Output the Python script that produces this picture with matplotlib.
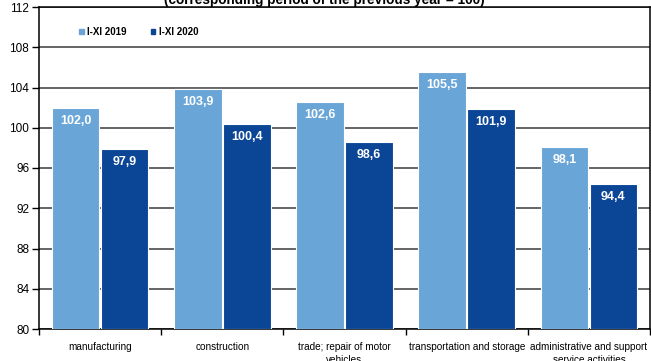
import numpy as np
import matplotlib.pyplot as plt
from matplotlib.patches import Patch

categories = ['manufacturing', 'construction', 'trade; repair of motor\nvehicles',
              'transportation and storage', 'administrative and support\nservice activities']
vals_2019 = [102.0, 103.9, 102.6, 105.5, 98.1]
vals_2020 = [97.9, 100.4, 98.6, 101.9, 94.4]
series_names = ['I-XI 2019', 'I-XI 2020']
yticks = [80, 84, 88, 92, 96, 100, 104, 108, 112]

light = '#69a6d7'
dark = '#0b4596'
plt.rcParams['font.family'] = ['Liberation Sans', 'DejaVu Sans']

fig = plt.figure(figsize=(6.51, 3.61), dpi=100)
ax = fig.add_axes([39 / 651, 1 - 329 / 361, 611 / 651, 322 / 361])

x = np.arange(len(categories))
w = 0.39
b1 = ax.bar(x - 0.2, np.array(vals_2019) - 80, w, bottom=80, color=light,
            edgecolor='white', linewidth=0.8, zorder=3)
b2 = ax.bar(x + 0.2, np.array(vals_2020) - 80, w, bottom=80, color=dark,
            edgecolor='white', linewidth=0.8, zorder=3)

for bars, vals in ((b1, vals_2019), (b2, vals_2020)):
    for r, v in zip(bars, vals):
        ax.text(r.get_x() + r.get_width() / 2, v - 0.7, f'{v:.1f}'.replace('.', ','),
                ha='center', va='top', color='white', fontweight='bold',
                fontsize=9, zorder=4)

ax.set_xlim(-0.5, len(categories) - 0.5)
ax.set_ylim(80, 112)
ax.set_yticks(yticks)
ax.set_yticklabels([str(t) for t in yticks], fontsize=8.5)
ax.yaxis.grid(True, color='#3a3a3a', linewidth=1.1, zorder=0)
ax.tick_params(axis='y', direction='out', length=5, width=1, pad=2)

# category labels sit between the boundary ticks
ax.set_xticks(np.arange(len(categories) + 1) - 0.5)
ax.set_xticklabels([])
ax.tick_params(axis='x', direction='out', length=4, width=1)
ax.set_xticks(x, minor=True)
ax.set_xticklabels(categories, minor=True, fontsize=7.2, linespacing=1.45)
ax.tick_params(axis='x', which='minor', length=0, pad=9)

for s in ax.spines.values():
    s.set_color('black')
    s.set_linewidth(1.1)

handles = [Patch(color=light), Patch(color=dark)]
ax.legend(handles, series_names, loc='center left', bbox_to_anchor=(0.058, 0.922),
          ncol=2, frameon=False, borderpad=0, handlelength=0.45, handleheight=0.45,
          handletextpad=0.35, columnspacing=2.5,
          prop={'weight': 'bold', 'size': 7})

fig.text(0.498, 1 - 4 / 361, '(corresponding period of the previous year = 100)',
         ha='center', va='baseline', fontweight='bold', fontsize=9.8)

fig.savefig('out.png', dpi=100)
